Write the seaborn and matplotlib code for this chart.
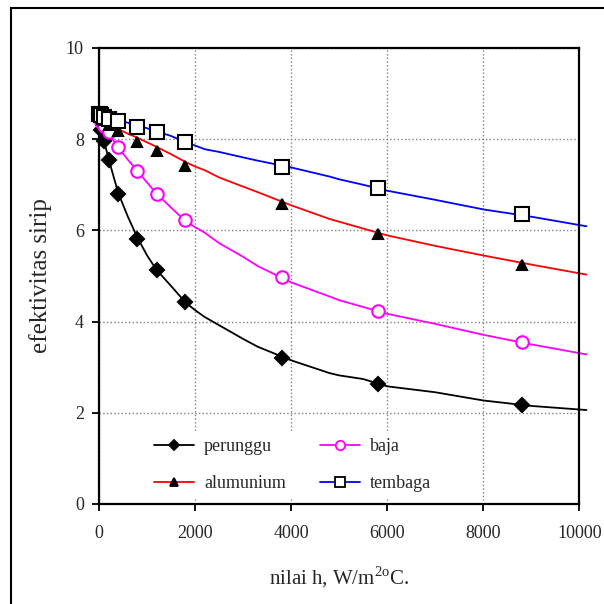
import pandas as pd
import matplotlib
matplotlib.use("Agg")
import matplotlib.pyplot as plt
import matplotlib.patches as patches
from matplotlib.lines import Line2D
import seaborn as sns

# measured points (markers)
h_exp = [0, 10, 50, 100, 200, 400, 800, 1200, 1800, 3800, 5800, 8800]
perunggu_exp = [8.55, 8.45, 8.20, 7.97, 7.55, 6.80, 5.82, 5.12, 4.42, 3.20, 2.63, 2.17]
baja_exp = [8.55, 8.50, 8.38, 8.28, 8.15, 7.82, 7.30, 6.80, 6.22, 4.97, 4.24, 3.55]
alumunium_exp = [8.55, 8.53, 8.48, 8.42, 8.32, 8.18, 7.94, 7.73, 7.42, 6.57, 5.93, 5.24]
tembaga_exp = [8.56, 8.55, 8.52, 8.49, 8.45, 8.40, 8.27, 8.15, 7.93, 7.40, 6.93, 6.35]

# computed curves (lines)
h_line = [0, 100, 200, 400, 600, 800, 1000, 1200, 1500, 1800, 2000, 2200, 2500,
          3000, 3300, 4000, 4800, 5000, 5500, 6000, 7000, 8000, 9000, 10150]
perunggu_line = [8.50, 7.98, 7.56, 6.82, 6.30, 5.84, 5.45, 5.13, 4.78, 4.42, 4.25, 4.10,
                 3.92, 3.62, 3.45, 3.15, 2.87, 2.82, 2.74, 2.58, 2.45, 2.27, 2.15, 2.06]
baja_line = [8.50, 8.30, 8.12, 7.82, 7.55, 7.30, 7.05, 6.80, 6.50, 6.20, 6.07, 5.95,
             5.72, 5.42, 5.22, 4.86, 4.55, 4.47, 4.32, 4.17, 3.95, 3.71, 3.50, 3.28]
alumunium_line = [8.55, 8.45, 8.38, 8.22, 8.12, 8.03, 7.93, 7.83, 7.67, 7.50, 7.40, 7.32,
                  7.16, 6.96, 6.84, 6.55, 6.25, 6.19, 6.04, 5.89, 5.66, 5.45, 5.25, 5.03]
tembaga_line = [8.56, 8.52, 8.48, 8.42, 8.36, 8.30, 8.24, 8.17, 8.07, 7.93, 7.86, 7.78,
                7.72, 7.60, 7.53, 7.38, 7.18, 7.12, 7.00, 6.87, 6.67, 6.46, 6.30, 6.09]

x_ticks = [0, 2000, 4000, 6000, 8000, 10000]
y_ticks = [0, 2, 4, 6, 8, 10]

sns.set_style("white")
plt.rcParams["font.family"] = ["Liberation Serif", "DejaVu Serif"]
plt.rcParams["mathtext.fontset"] = "custom"
plt.rcParams["mathtext.rm"] = "Liberation Serif"

fig = plt.figure(figsize=(6.04, 6.04), dpi=100)
ax = fig.add_axes([0.164, 0.1656, 0.795, 0.755])

series = {
    "perunggu": (perunggu_line, perunggu_exp, "black", "D", 7, "black", "black"),
    "baja": (baja_line, baja_exp, "#ff00ff", "o", 9, "white", "#ff00ff"),
    "alumunium": (alumunium_line, alumunium_exp, "red", "^", 7, "black", "black"),
    "tembaga": (tembaga_line, tembaga_exp, "blue", "s", 10, "white", "black"),
}

handles = {}
for name, (yl, ye, col, mk, ms, mfc, mec) in series.items():
    line_df = pd.DataFrame({"h": h_line, "eff": yl})
    sns.lineplot(data=line_df, x="h", y="eff", ax=ax, color=col, lw=1.3,
                 estimator=None, clip_on=False, zorder=2)
    exp_df = pd.DataFrame({"h": h_exp, "eff": ye})
    ax.plot(exp_df["h"], exp_df["eff"], ls="none", marker=mk, ms=ms,
            mfc=mfc, mec=mec, mew=1.5, clip_on=False, zorder=3)
    handles[name] = Line2D([], [], color=col, lw=1.3, marker=mk, ms=ms * 0.75,
                           mfc=mfc, mec=mec, mew=1.3, label=name)

ax.set_xlim(0, 10000)
ax.set_ylim(0, 10)
ax.set_xticks(x_ticks)
ax.set_yticks(y_ticks)
ax.grid(True, color="#808080", ls=":", lw=1.0, zorder=0)
ax.set_axisbelow(True)

for s in ax.spines.values():
    s.set_color("black")
    s.set_linewidth(1.6)
ax.tick_params(axis="both", direction="out", length=5, width=1.3, color="black",
               labelsize=13, left=True, bottom=True)
ax.tick_params(axis="x", pad=10)
ax.tick_params(axis="y", pad=6)

ax.set_ylabel("efektivitas sirip", fontsize=18, labelpad=10)
ax.set_xlabel(r"nilai h, W/m$^{2\mathrm{o}}$C.", fontsize=15, labelpad=16)

# column-wise fill: perunggu/alumunium in first column, baja/tembaga in second
order = ["perunggu", "alumunium", "baja", "tembaga"]
leg = ax.legend(handles=[handles[k] for k in order], ncol=2, loc="lower left",
                bbox_to_anchor=(0.085, -0.006), frameon=True, fontsize=13,
                handlelength=2.2, columnspacing=1.9, labelspacing=1.1,
                handletextpad=0.55, borderpad=0.3)
leg.get_frame().set_edgecolor("white")
leg.get_frame().set_facecolor("white")
leg.get_frame().set_alpha(1.0)
leg.set_zorder(5)

fig.patches.append(patches.Rectangle((11 / 604, -0.1), 1.2, (604 - 8) / 604 + 0.1,
                                     transform=fig.transFigure, fill=False,
                                     lw=1.5, edgecolor="black"))

fig.savefig("out.png", dpi=100)
